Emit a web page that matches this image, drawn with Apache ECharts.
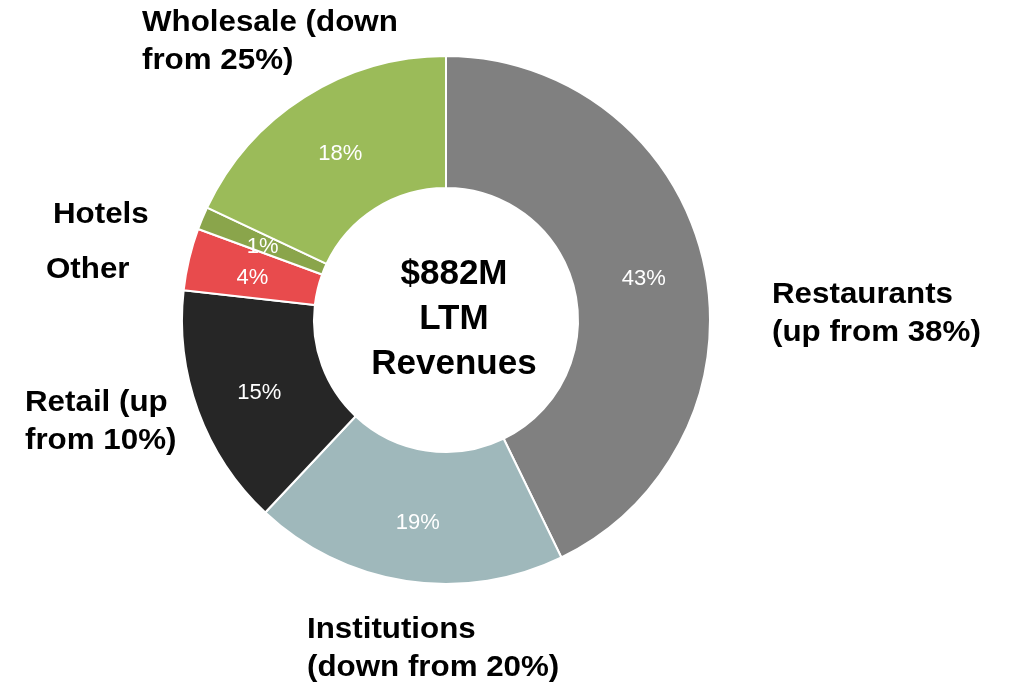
<!DOCTYPE html>
<html>
<head>
<meta charset="utf-8">
<script src="https://cdn.jsdelivr.net/npm/echarts@6/dist/echarts.min.js"></script>
<style>
html,body{margin:0;padding:0;background:#fff;}
#c{width:1012px;height:685px;}
</style>
</head>
<body>
<div id="c"></div>
<script>
// Data
const categories = ['Restaurants', 'Institutions', 'Retail', 'Other', 'Hotels', 'Wholesale'];
const shares = [42.8, 19.2, 14.8, 3.8, 1.4, 18.0];
const colors = ['#808080', '#9fb8bb', '#262626', '#e84b4d', '#8aa54b', '#9bbb59'];
const outerLabels = [
  'Restaurants\n(up from 38%)',
  'Institutions\n(down from 20%)',
  'Retail (up\nfrom 10%)',
  'Other',
  'Hotels',
  'Wholesale (down\nfrom 25%)'
];
const centerLines = ['$882M', 'LTM', 'Revenues'];

const labelPos = [
  [772, 276], [307, 611], [25, 384], [46, 270], [53, 215], [142, 4]
];

const chart = echarts.init(document.getElementById('c'), null, {renderer: 'canvas'});
const fontFam = 'Liberation Sans, Arial, sans-serif';

const graphics = categories.map((c, i) => ({
  type: 'text',
  left: labelPos[i][0],
  top: labelPos[i][1] - (outerLabels[i].indexOf('\n') >= 0 ? 0 : 19),
  style: {
    text: outerLabels[i],
    font: 'bold 29px ' + fontFam,
    lineHeight: 38,
    fill: '#000',
    textAlign: 'left'
  },
  scaleX: 1.08
}));

graphics.push({
  type: 'text',
  x: 454,
  y: 319,
  style: {
    text: centerLines.join('\n'),
    font: 'bold 35px ' + fontFam,
    lineHeight: 45,
    fill: '#000',
    align: 'center',
    verticalAlign: 'middle'
  }
});

chart.setOption({
  animation: false,
  graphic: graphics,
  series: [{
    type: 'pie',
    center: [446, 320],
    radius: [132, 264],
    startAngle: 90,
    clockwise: true,
    silent: true,
    data: categories.map((c, i) => ({
      name: c,
      value: shares[i],
      itemStyle: {color: colors[i]}
    })),
    itemStyle: {borderColor: '#fff', borderWidth: 2},
    label: {
      show: true,
      position: 'inside',
      formatter: p => Math.round(p.value) + '%',
      color: '#fff',
      fontSize: 22,
      fontFamily: fontFam,
      offset: [2, 4]
    },
    labelLine: {show: false}
  }]
});
</script>
</body>
</html>
